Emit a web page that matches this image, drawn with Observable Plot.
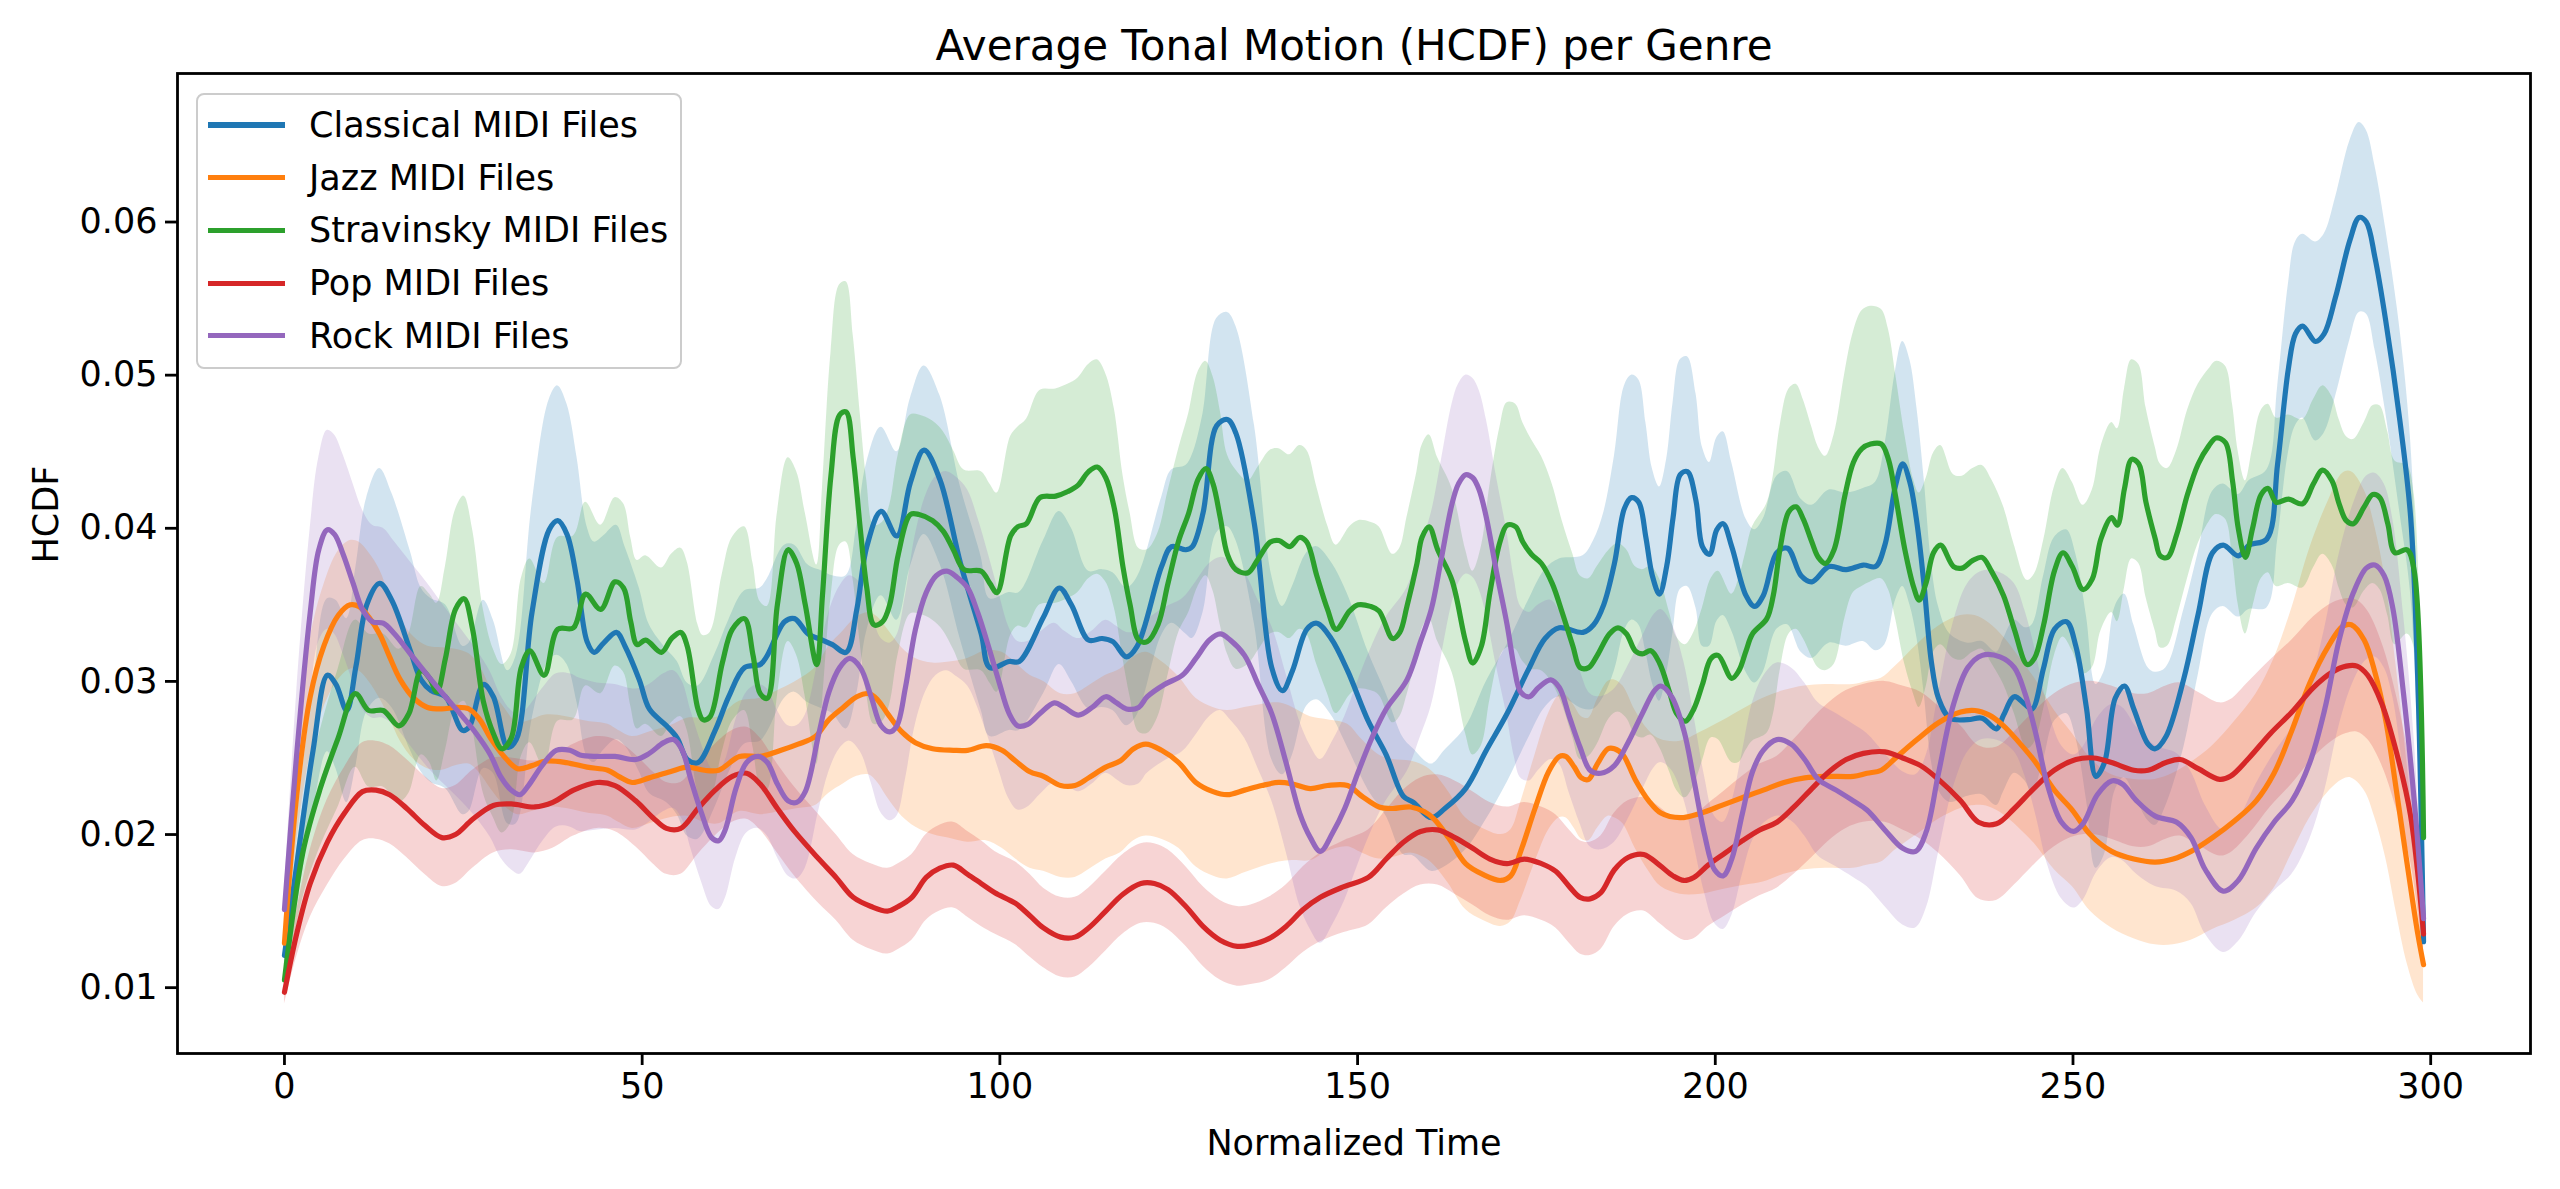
<!DOCTYPE html>
<html><head><meta charset="utf-8">
<script src="https://cdn.jsdelivr.net/npm/d3@7"></script>
<script src="https://cdn.jsdelivr.net/npm/@observablehq/plot@0.6"></script>
<style>
html,body{margin:0;padding:0;background:#fff;}
#wrap{position:relative;width:2560px;height:1189px;overflow:hidden;}
#legend{position:absolute;left:196px;top:93px;width:486px;height:276px;box-sizing:border-box;border:2.8px solid #cccccc;border-radius:8px;background:rgba(255,255,255,0.8);font-family:"DejaVu Sans";font-size:35px;color:#000;}
.sw{position:absolute;left:10px;width:77px;height:5.2px;}
.lt{position:absolute;left:111px;line-height:40px;white-space:nowrap;}
</style>
</head><body>
<div id="wrap"><div id="chart"></div><div id="legend"></div></div>
<script>
// values as [time, mean HCDF, band half-width]
const classical = [[0,0.0121,0.0015],[2,0.019,0.003],[4,0.0255,0.004],[6,0.0304,0.005],[7.2,0.0298,0.0055],[8.7,0.0281,0.006],[10,0.031,0.0065],[11.5,0.035,0.007],[13.3,0.0364,0.0075],[15,0.0353,0.007],[17.6,0.032,0.0065],[19.1,0.0301,0.006],[20.5,0.0294,0.006],[22.5,0.029,0.006],[24.9,0.0268,0.0055],[25.8,0.027,0.0055],[27.8,0.0298,0.0055],[29.2,0.029,0.005],[31.2,0.0257,0.005],[32.4,0.0262,0.0055],[34.6,0.0345,0.007],[37,0.0399,0.0085],[38.2,0.0405,0.0088],[39.5,0.0396,0.0085],[40.9,0.0366,0.008],[42.3,0.0326,0.0075],[43.3,0.0319,0.0072],[44.6,0.0325,0.007],[46.4,0.0332,0.007],[47.6,0.0323,0.0065],[49.6,0.0301,0.006],[51,0.0282,0.0055],[53.4,0.0271,0.005],[54.9,0.0263,0.005],[56.3,0.0249,0.005],[57.8,0.0247,0.005],[60.2,0.0268,0.005],[62.1,0.029,0.005],[64.3,0.0309,0.005],[66.5,0.0311,0.005],[67.5,0.0317,0.005],[69.9,0.0339,0.005],[71.3,0.0341,0.0048],[73.2,0.0331,0.0045],[75.2,0.0327,0.0045],[76.6,0.0324,0.0045],[78.5,0.0319,0.005],[80,0.0347,0.0055],[81.4,0.0388,0.0055],[83.4,0.0411,0.0055],[85.6,0.0395,0.0055],[87.5,0.043,0.0055],[89.4,0.0451,0.0055],[91.6,0.0432,0.0055],[94.5,0.0377,0.005],[97.4,0.0331,0.005],[98.6,0.0309,0.0045],[101.3,0.0313,0.0045],[102.7,0.0313,0.0045],[106.1,0.0342,0.005],[108.3,0.0361,0.005],[110,0.035,0.005],[112.4,0.0327,0.0045],[114.3,0.0328,0.0045],[115.8,0.0326,0.0045],[117.7,0.0316,0.0045],[119.2,0.0323,0.0045],[122.6,0.0375,0.0045],[124,0.0388,0.005],[126,0.0386,0.0055],[126.9,0.0388,0.006],[128.4,0.041,0.0065],[130.3,0.0467,0.007],[131.8,0.0471,0.007],[133,0.0462,0.007],[135.6,0.0402,0.0065],[138,0.0309,0.006],[139.5,0.0294,0.0055],[140.9,0.0307,0.0055],[142.9,0.0334,0.005],[144.3,0.0338,0.005],[146.3,0.0328,0.005],[148.6,0.0307,0.005],[151.5,0.0274,0.0045],[154,0.0252,0.004],[156.4,0.0225,0.0038],[157.8,0.0221,0.0035],[160.3,0.0211,0.0035],[162.2,0.0217,0.0038],[165.1,0.023,0.004],[168,0.0255,0.0045],[170.9,0.0279,0.0045],[173.8,0.0307,0.0045],[176.2,0.0328,0.0045],[178.2,0.0335,0.0045],[181.5,0.0332,0.005],[183,0.0337,0.0055],[184.4,0.035,0.006],[185.9,0.0377,0.007],[187.3,0.0413,0.008],[188.3,0.042,0.008],[189.3,0.0417,0.008],[190.3,0.0394,0.0075],[191.2,0.0369,0.007],[192.2,0.0357,0.007],[193.2,0.0375,0.007],[194.1,0.0407,0.0075],[195.1,0.0435,0.0075],[196.1,0.0437,0.0075],[197.3,0.0418,0.007],[198.2,0.0388,0.0065],[199.2,0.0383,0.006],[200.2,0.0399,0.006],[201.1,0.0403,0.006],[202.3,0.0388,0.0055],[204.3,0.0356,0.005],[205.5,0.0349,0.005],[206.7,0.0356,0.005],[208.6,0.0384,0.005],[210.1,0.0387,0.005],[212,0.0369,0.005],[213.5,0.0365,0.005],[215.9,0.0375,0.005],[218.3,0.0373,0.005],[220.7,0.0376,0.005],[222.4,0.0375,0.0055],[223.7,0.0389,0.0065],[225.2,0.0428,0.0075],[226.2,0.0442,0.008],[227.2,0.043,0.008],[228.2,0.0403,0.0075],[229.2,0.0362,0.007],[230.2,0.0313,0.0065],[231.2,0.0289,0.006],[232.8,0.0276,0.0055],[235.3,0.0275,0.005],[237.3,0.0276,0.005],[239.3,0.0269,0.005],[240.3,0.0278,0.005],[241.8,0.029,0.005],[243.3,0.0285,0.005],[244.3,0.0282,0.0055],[245.9,0.0309,0.006],[247.4,0.0334,0.006],[249.1,0.0339,0.006],[250.4,0.0323,0.006],[251.9,0.0282,0.006],[253.2,0.0238,0.006],[254.4,0.0247,0.006],[255.9,0.0289,0.006],[257.2,0.0297,0.006],[258.5,0.0282,0.0055],[260.5,0.0259,0.005],[261.5,0.0256,0.005],[263,0.0264,0.0045],[265.5,0.0302,0.0045],[267.5,0.0344,0.004],[269.5,0.0384,0.004],[271,0.0389,0.004],[273.1,0.0382,0.004],[274.6,0.0389,0.0042],[277.1,0.0393,0.0045],[278.6,0.0442,0.005],[280.1,0.0504,0.0055],[281.1,0.0527,0.006],[282.1,0.0532,0.006],[283.9,0.0522,0.0065],[285.1,0.0527,0.0065],[286.7,0.0551,0.0065],[288.7,0.0588,0.0065],[290,0.0603,0.0062],[291,0.06,0.006],[292.2,0.0577,0.006],[293.7,0.0536,0.006],[295.7,0.047,0.006],[297.2,0.0407,0.005],[298.2,0.03,0.004],[299,0.013,0.001]];

const jazz = [[0,0.0129,0.0015],[1.7,0.0225,0.003],[3.6,0.029,0.0038],[5.5,0.0323,0.004],[7.5,0.0343,0.0042],[9.2,0.035,0.0042],[10.4,0.0349,0.0042],[11.8,0.0342,0.0042],[13.3,0.0331,0.0042],[14.7,0.0316,0.004],[16.2,0.0301,0.004],[18.1,0.0289,0.004],[20,0.0283,0.004],[22,0.0282,0.004],[23.9,0.0283,0.0038],[25.8,0.0282,0.0036],[27.3,0.0275,0.0035],[28.8,0.0263,0.0033],[30.7,0.0251,0.0032],[32.6,0.0243,0.003],[34.6,0.0245,0.003],[36.5,0.0248,0.003],[39.4,0.0247,0.003],[42.3,0.0244,0.003],[45.2,0.0242,0.003],[46.7,0.0238,0.003],[48.6,0.0234,0.003],[51,0.0237,0.003],[53.9,0.0241,0.003],[56.3,0.0244,0.0032],[58.7,0.0242,0.0034],[60.7,0.0242,0.0035],[63.6,0.0251,0.0036],[66.5,0.0251,0.0038],[69.4,0.0255,0.004],[71.8,0.0259,0.0042],[74.2,0.0264,0.0045],[76.1,0.0275,0.0048],[78.1,0.0283,0.005],[80,0.029,0.0052],[81.7,0.0292,0.0053],[82.9,0.0288,0.0054],[84.3,0.0279,0.0055],[86.3,0.0267,0.0055],[88.2,0.026,0.0055],[90.6,0.0256,0.0056],[93.5,0.0255,0.0058],[95.5,0.0255,0.006],[98.1,0.0258,0.0062],[100.3,0.0255,0.0064],[102.2,0.0248,0.0064],[104.2,0.0241,0.0063],[106.1,0.0238,0.0062],[108.5,0.0232,0.006],[110.5,0.0232,0.006],[112.4,0.0237,0.006],[114.8,0.0244,0.006],[116.8,0.0248,0.006],[118.7,0.0256,0.006],[120.4,0.0259,0.006],[122.6,0.0255,0.0058],[125,0.0247,0.0056],[127.4,0.0234,0.0055],[129.8,0.0228,0.0055],[131.8,0.0226,0.0055],[134.2,0.0229,0.0054],[136.6,0.0232,0.0053],[139,0.0234,0.0052],[140.9,0.0233,0.005],[143.4,0.023,0.0047],[145.8,0.0232,0.0043],[148.6,0.0232,0.004],[150.6,0.0225,0.0037],[153,0.0218,0.0034],[154.9,0.0217,0.0032],[157.4,0.0218,0.003],[159.3,0.0215,0.003],[160.7,0.021,0.003],[162.7,0.0198,0.003],[165.1,0.0181,0.003],[167.5,0.0174,0.003],[170,0.017,0.003],[171.4,0.0173,0.003],[172.8,0.0189,0.0032],[174.8,0.0217,0.0035],[176.7,0.0241,0.0038],[178.2,0.0251,0.004],[179.1,0.0251,0.004],[180.3,0.0244,0.004],[181.3,0.0237,0.004],[182.3,0.0236,0.004],[183.5,0.0246,0.0042],[185,0.0256,0.0044],[185.9,0.0256,0.0045],[187.1,0.0252,0.0045],[188.8,0.0236,0.0045],[190.7,0.0222,0.0046],[192.4,0.0214,0.0048],[195.1,0.0211,0.005],[198,0.0214,0.0053],[200.9,0.0219,0.0055],[204.3,0.0225,0.0058],[206.7,0.0229,0.006],[209.6,0.0234,0.006],[212.5,0.0237,0.006],[215.4,0.0238,0.006],[219.3,0.0238,0.006],[221.2,0.024,0.006],[223.2,0.0242,0.006],[225.2,0.025,0.006],[228.2,0.0262,0.0062],[231.2,0.0273,0.0063],[234.3,0.028,0.0063],[236.3,0.0281,0.0062],[238.3,0.0278,0.006],[240.3,0.0271,0.0058],[242.3,0.0261,0.0056],[244.8,0.0247,0.0054],[247.4,0.0229,0.0052],[249.9,0.0216,0.005],[252.4,0.02,0.005],[255.4,0.0189,0.005],[258.5,0.0184,0.0052],[261.5,0.0182,0.0054],[264,0.0184,0.0056],[266.5,0.0189,0.0058],[269.5,0.0198,0.006],[272.6,0.0209,0.0065],[275.6,0.0222,0.007],[278.1,0.024,0.0075],[280.6,0.0268,0.008],[283.1,0.0299,0.0088],[285.7,0.0323,0.0095],[287.7,0.0336,0.01],[288.9,0.0337,0.01],[290.7,0.0327,0.0098],[292.2,0.0306,0.0095],[293.7,0.0275,0.009],[295.2,0.0229,0.008],[296.7,0.0181,0.0065],[298.2,0.0135,0.004],[299,0.0115,0.0025]];

const stravinsky = [[0,0.0105,0.001],[2.6,0.0189,0.003],[5,0.023,0.0038],[7.5,0.0263,0.0045],[9.9,0.0292,0.0048],[11.8,0.0281,0.005],[13.8,0.0281,0.005],[16,0.0271,0.005],[17.4,0.0279,0.0052],[19.1,0.0307,0.0055],[20.3,0.0302,0.0055],[21.3,0.0293,0.0058],[22.5,0.0315,0.006],[23.9,0.0347,0.0065],[25.1,0.0354,0.0067],[26.3,0.0334,0.0065],[27.8,0.0287,0.006],[29.2,0.0266,0.0055],[30.4,0.0256,0.0055],[31.7,0.0263,0.0055],[33.1,0.0309,0.0058],[34.3,0.032,0.006],[36.3,0.0304,0.006],[38.2,0.0334,0.006],[40.4,0.0335,0.006],[42.1,0.0357,0.006],[44.2,0.0347,0.0055],[46.2,0.0365,0.0055],[47.4,0.0361,0.0055],[48.4,0.0339,0.0055],[49.3,0.0324,0.0055],[50.5,0.0327,0.0055],[52.7,0.0319,0.0055],[54.1,0.0328,0.0055],[55.4,0.0332,0.0055],[56.3,0.0323,0.0055],[57.8,0.0282,0.0055],[58.5,0.0275,0.0055],[59.5,0.0277,0.0055],[61.2,0.0312,0.0058],[62.6,0.0334,0.006],[64.3,0.0341,0.006],[65.5,0.0317,0.006],[66.5,0.0292,0.006],[67.5,0.0289,0.006],[68.9,0.035,0.006],[70.4,0.0386,0.006],[71.6,0.0377,0.006],[72.8,0.035,0.006],[74.4,0.0311,0.0065],[75.2,0.0356,0.007],[76.4,0.0435,0.008],[77.6,0.0474,0.0085],[78.5,0.0476,0.0085],[79.5,0.0446,0.008],[80.5,0.0399,0.0075],[81.4,0.0361,0.007],[82.4,0.0337,0.0065],[83.6,0.0339,0.0065],[84.6,0.035,0.0065],[85.8,0.0383,0.0065],[87.5,0.0409,0.0065],[88.7,0.0409,0.0065],[90.6,0.0405,0.0065],[92.1,0.0398,0.0065],[93.5,0.0386,0.0065],[95,0.0373,0.0065],[97.4,0.0372,0.0065],[98.6,0.0364,0.0065],[99.6,0.0358,0.0065],[101.5,0.0395,0.0065],[102.5,0.0401,0.0065],[103.7,0.0403,0.0068],[105.6,0.042,0.007],[107.8,0.0421,0.007],[109.5,0.0424,0.007],[110.9,0.0428,0.007],[112.4,0.0437,0.007],[113.6,0.044,0.007],[114.8,0.0433,0.0068],[116,0.0413,0.0065],[117.2,0.0375,0.006],[118.2,0.035,0.006],[119.4,0.0327,0.006],[120.6,0.0326,0.006],[122.1,0.0337,0.006],[123.5,0.0364,0.006],[125,0.0392,0.006],[126.4,0.041,0.0065],[127.7,0.0432,0.007],[128.8,0.0439,0.007],[129.8,0.0429,0.007],[130.8,0.0407,0.007],[131.8,0.0383,0.0065],[133,0.0373,0.0065],[134.7,0.0371,0.006],[136.1,0.038,0.006],[137.8,0.0391,0.006],[139,0.0392,0.006],[140.5,0.0388,0.006],[141.9,0.0394,0.006],[142.9,0.0391,0.006],[144.3,0.0369,0.0058],[145.8,0.0347,0.0055],[147,0.0334,0.0055],[148.9,0.0346,0.0055],[150.1,0.035,0.0055],[151.8,0.0349,0.0055],[153,0.0346,0.0055],[154.9,0.0328,0.0055],[155.9,0.0332,0.0055],[156.9,0.0349,0.0058],[158.3,0.0377,0.006],[159,0.0394,0.006],[160,0.0401,0.006],[161.2,0.0386,0.006],[163.2,0.0366,0.006],[165.1,0.0326,0.006],[166.1,0.0312,0.006],[167.3,0.0323,0.0065],[168.5,0.0358,0.007],[169.9,0.0391,0.0075],[170.9,0.0402,0.008],[172.1,0.0401,0.008],[173.1,0.0391,0.0078],[174.3,0.0383,0.0075],[175.7,0.0377,0.007],[177.2,0.0364,0.0065],[178.6,0.0345,0.006],[180.1,0.0323,0.006],[181.1,0.0309,0.006],[182.3,0.0309,0.0058],[183.5,0.0317,0.0058],[185.2,0.0331,0.0055],[186.4,0.0335,0.0055],[187.6,0.0331,0.0055],[188.8,0.032,0.0055],[189.8,0.0318,0.0055],[191,0.032,0.0055],[192.2,0.0312,0.0055],[193.6,0.0293,0.0052],[194.6,0.0279,0.005],[195.8,0.0274,0.005],[197,0.0282,0.005],[198.2,0.0298,0.005],[199.4,0.0315,0.0052],[200.4,0.0317,0.0055],[202.3,0.0302,0.0055],[203.3,0.0307,0.006],[204.3,0.032,0.0065],[205.2,0.0331,0.007],[207.2,0.0341,0.0075],[208.1,0.0356,0.0078],[209.1,0.0388,0.008],[210.3,0.0411,0.008],[211.3,0.0414,0.008],[212.3,0.0406,0.0078],[213.5,0.0391,0.0075],[214.4,0.0381,0.0072],[215.4,0.0377,0.007],[216.6,0.0386,0.0075],[218.1,0.0421,0.008],[219.3,0.0443,0.0085],[220.5,0.0452,0.009],[221.7,0.0455,0.009],[223.2,0.0455,0.0088],[224.2,0.0445,0.0085],[225.2,0.0421,0.008],[226.5,0.0386,0.0075],[227.7,0.0362,0.007],[228.5,0.0353,0.007],[229.5,0.0365,0.0068],[230.5,0.0384,0.0065],[231.5,0.0389,0.0065],[233.3,0.0375,0.006],[234.5,0.0374,0.006],[236,0.0379,0.006],[237.3,0.0381,0.006],[238.6,0.0372,0.006],[240.3,0.0356,0.0058],[241.8,0.0334,0.0055],[243.6,0.0311,0.0055],[244.6,0.0315,0.0055],[245.9,0.0337,0.0055],[247.4,0.0372,0.0055],[248.6,0.0384,0.0055],[249.9,0.0375,0.0055],[251.4,0.036,0.0055],[252.7,0.0367,0.0058],[253.9,0.0393,0.006],[255.4,0.0407,0.0062],[256.2,0.0402,0.0063],[257.2,0.0426,0.0065],[258.2,0.0445,0.0065],[259.2,0.0442,0.0065],[260.2,0.0417,0.0062],[261.5,0.0393,0.006],[262.2,0.0382,0.006],[263.2,0.0381,0.0058],[264.5,0.0396,0.0055],[266,0.0422,0.0055],[267.5,0.0442,0.0052],[269,0.0454,0.005],[270,0.0459,0.005],[271.3,0.0456,0.005],[272.3,0.0431,0.005],[273.1,0.04,0.005],[274.1,0.0381,0.005],[275.1,0.04,0.0052],[276.3,0.0422,0.0055],[277.3,0.0426,0.0055],[278.4,0.0417,0.0055],[280.1,0.0419,0.0055],[282.1,0.0416,0.0055],[283.6,0.0429,0.0055],[284.9,0.0438,0.0055],[286.2,0.0431,0.0055],[287.2,0.0416,0.0055],[288.2,0.0405,0.0055],[289.2,0.0403,0.0055],[290.7,0.0414,0.0055],[291.9,0.0422,0.0058],[292.9,0.042,0.006],[294,0.0403,0.006],[295,0.0384,0.006],[296.7,0.0386,0.0055],[297.7,0.0372,0.005],[299,0.0198,0.001]];

const pop = [[0,0.0097,0.0008],[1.7,0.0135,0.0015],[3.6,0.0168,0.0022],[6,0.0195,0.0028],[8.4,0.0214,0.003],[10.9,0.0228,0.0032],[12.8,0.0229,0.0032],[14.7,0.0226,0.0032],[17.1,0.0217,0.0032],[19.6,0.0206,0.0032],[22,0.0198,0.0032],[23.9,0.02,0.0032],[26.3,0.021,0.0032],[29.2,0.0219,0.0031],[31.7,0.022,0.003],[35,0.0218,0.003],[37.5,0.0221,0.003],[40.4,0.0229,0.003],[43.7,0.0234,0.003],[46.2,0.0232,0.003],[49.1,0.0222,0.003],[51.5,0.0211,0.003],[53.4,0.0204,0.003],[55.4,0.0204,0.003],[57.8,0.0217,0.003],[60.2,0.0229,0.003],[62.6,0.0238,0.003],[64.6,0.024,0.003],[66.5,0.0233,0.003],[68.9,0.0217,0.0029],[71.3,0.0202,0.0029],[74.7,0.0184,0.0029],[77.1,0.0172,0.0028],[79.5,0.0159,0.0028],[82,0.0153,0.0028],[84.3,0.015,0.0028],[85.8,0.0153,0.0028],[87.7,0.0159,0.0028],[89.7,0.0172,0.0028],[91.6,0.0178,0.0028],[93.5,0.018,0.0028],[95.5,0.0174,0.0028],[97.4,0.0168,0.0028],[99.3,0.0162,0.0027],[102.2,0.0155,0.0027],[104.2,0.0147,0.0027],[106.1,0.0139,0.0026],[108.5,0.0133,0.0026],[110.5,0.0133,0.0026],[112.4,0.0139,0.0026],[114.8,0.015,0.0026],[117.2,0.0161,0.0026],[119.7,0.0168,0.0026],[121.6,0.0168,0.0026],[123.5,0.0164,0.0026],[126,0.0153,0.0026],[128.4,0.014,0.0026],[130.8,0.0131,0.0026],[133.2,0.0127,0.0026],[135.1,0.0128,0.0026],[137.6,0.0132,0.0027],[140,0.014,0.0027],[142.4,0.0151,0.0028],[144.8,0.0159,0.0029],[148.1,0.0166,0.003],[151.5,0.0172,0.0031],[154,0.0184,0.0032],[156.4,0.0195,0.0034],[158.8,0.0202,0.0035],[161.2,0.0203,0.0036],[163.6,0.0198,0.0037],[166.1,0.0191,0.0037],[168.5,0.0184,0.0037],[170.9,0.0181,0.0037],[173.3,0.0184,0.0037],[175.7,0.0181,0.0037],[177.7,0.0176,0.0037],[179.6,0.0166,0.0037],[181.1,0.0159,0.0037],[182.5,0.0158,0.0037],[184,0.0162,0.0037],[185.9,0.0177,0.0037],[187.8,0.0185,0.0037],[190,0.0187,0.0037],[192.2,0.018,0.0038],[194.1,0.0173,0.0038],[195.6,0.017,0.0039],[197,0.0172,0.004],[199,0.018,0.004],[201.4,0.0188,0.0041],[203.8,0.0196,0.0042],[206.2,0.0203,0.0043],[208.6,0.0208,0.0043],[211,0.0218,0.0044],[213.5,0.023,0.0045],[215.9,0.0241,0.0045],[218.3,0.0249,0.0045],[220.7,0.0253,0.0045],[223.7,0.0254,0.0046],[226.2,0.025,0.0047],[228.7,0.0245,0.0048],[231.2,0.0236,0.0048],[234.3,0.0222,0.0049],[236.8,0.0208,0.005],[239.3,0.0207,0.005],[241.8,0.0217,0.005],[244.3,0.0229,0.005],[247.4,0.0242,0.005],[250.4,0.0249,0.005],[252.9,0.025,0.005],[255.4,0.0247,0.005],[258.5,0.0242,0.005],[260.5,0.0242,0.005],[263,0.0247,0.005],[265,0.0249,0.005],[267.5,0.0243,0.005],[270.5,0.0236,0.005],[272,0.0238,0.005],[274.6,0.025,0.005],[277.6,0.0266,0.0048],[280.6,0.028,0.0047],[283.6,0.0296,0.0046],[286.2,0.0306,0.0045],[288.2,0.031,0.0044],[289.7,0.031,0.0043],[291.2,0.0304,0.0042],[293.2,0.0285,0.004],[295.2,0.0254,0.0037],[297.2,0.0212,0.003],[299,0.0135,0.0015]];

const rock = [[0,0.0151,0.001],[1.7,0.0252,0.004],[3.6,0.0345,0.0055],[4.8,0.0386,0.006],[6,0.0399,0.0065],[7,0.0396,0.0065],[8.2,0.0383,0.0065],[9.6,0.0364,0.0065],[10.9,0.0347,0.0065],[12.3,0.0339,0.0063],[13.8,0.0338,0.0062],[15.4,0.0331,0.006],[17.6,0.0318,0.006],[20,0.0304,0.006],[22.5,0.029,0.0058],[24.9,0.0277,0.0056],[26.8,0.0266,0.0055],[28.8,0.0252,0.0054],[30.2,0.0238,0.0053],[31.7,0.0229,0.0052],[32.9,0.0226,0.0052],[34.1,0.0232,0.0051],[36,0.0245,0.005],[38,0.0255,0.005],[39.9,0.0255,0.005],[41.3,0.0252,0.005],[43.7,0.0251,0.0048],[46.2,0.0251,0.0047],[49.1,0.0249,0.0046],[51,0.0253,0.0045],[53,0.026,0.0045],[54.4,0.0262,0.0045],[55.6,0.0255,0.0045],[56.8,0.0236,0.0045],[58.3,0.0214,0.0045],[59.7,0.0198,0.0045],[60.7,0.0196,0.0045],[61.6,0.0203,0.0045],[63.1,0.023,0.0045],[64.6,0.0247,0.0046],[66.2,0.0251,0.0047],[67.5,0.0247,0.0048],[68.9,0.0233,0.0048],[70.4,0.0222,0.0049],[71.6,0.0221,0.005],[72.8,0.0228,0.005],[74.7,0.0266,0.005],[76.1,0.0293,0.0052],[77.6,0.0309,0.0053],[79,0.0315,0.0054],[80.5,0.0309,0.0055],[82,0.029,0.0056],[83.4,0.0271,0.0057],[84.6,0.0267,0.0058],[85.6,0.0271,0.0059],[86.8,0.0296,0.006],[88.2,0.0334,0.0062],[89.7,0.0358,0.0064],[91.1,0.0369,0.0065],[92.6,0.0372,0.0065],[94,0.0368,0.0065],[95.5,0.0361,0.0064],[96.9,0.0345,0.0062],[98.4,0.0323,0.006],[99.8,0.0301,0.0058],[101.3,0.0279,0.0056],[102.5,0.0271,0.0055],[103.9,0.0272,0.0054],[105.6,0.0279,0.0053],[107.6,0.0286,0.0052],[109,0.0283,0.005],[111,0.0278,0.005],[112.9,0.0283,0.005],[114.8,0.029,0.005],[116.3,0.0286,0.005],[117.7,0.0282,0.005],[119.4,0.0283,0.005],[120.6,0.029,0.005],[123,0.0298,0.005],[125.5,0.0304,0.005],[127.4,0.0315,0.005],[129.3,0.0327,0.005],[130.8,0.0331,0.005],[132.2,0.0327,0.0052],[134.2,0.0317,0.0054],[136.1,0.0298,0.0055],[138,0.0279,0.0057],[140,0.0247,0.0058],[141.9,0.0214,0.006],[143.4,0.0198,0.006],[144.8,0.0189,0.006],[146.5,0.0201,0.006],[148.2,0.0217,0.006],[150.1,0.0241,0.006],[152,0.0263,0.006],[154,0.0282,0.006],[156.9,0.0301,0.006],[158.8,0.0326,0.0062],[160.3,0.0347,0.0063],[161.7,0.038,0.0064],[163.2,0.0416,0.0065],[164.1,0.0429,0.0065],[165.1,0.0435,0.0065],[166.1,0.0433,0.0065],[167,0.0425,0.0065],[168,0.0407,0.0064],[169.4,0.0372,0.0062],[170.9,0.0337,0.006],[171.9,0.0309,0.0058],[172.8,0.0293,0.0056],[174,0.029,0.0055],[175.3,0.0296,0.0054],[177,0.0301,0.0052],[178.2,0.0296,0.005],[179.6,0.0277,0.005],[181.1,0.0257,0.005],[182.5,0.0242,0.005],[184,0.024,0.005],[185.9,0.0245,0.005],[187.8,0.026,0.005],[189.8,0.0279,0.005],[191.5,0.0294,0.005],[192.4,0.0297,0.005],[193.9,0.029,0.0048],[195.6,0.0268,0.0045],[197,0.0236,0.0042],[198.5,0.02,0.0038],[199.9,0.0177,0.0035],[201.1,0.0173,0.0035],[202.3,0.0184,0.0037],[203.8,0.0214,0.004],[205.2,0.0241,0.0045],[206.7,0.0255,0.0048],[208.6,0.0262,0.005],[210.6,0.0259,0.005],[212.5,0.0249,0.005],[214.4,0.0236,0.005],[216.9,0.0229,0.005],[219.3,0.0222,0.005],[221.2,0.0216,0.005],[223.7,0.0203,0.005],[226.2,0.0191,0.005],[228,0.0189,0.005],[229.5,0.0202,0.005],[231.2,0.024,0.0052],[233.3,0.0285,0.0054],[235.3,0.0309,0.0055],[237.3,0.0317,0.0055],[239.8,0.0316,0.0055],[241.8,0.0309,0.0055],[243.3,0.0292,0.0054],[244.9,0.0264,0.0053],[246.4,0.0233,0.0052],[248.4,0.0208,0.005],[250.1,0.0202,0.005],[251.4,0.0207,0.005],[253.4,0.0226,0.005],[255.4,0.0235,0.005],[256.9,0.0233,0.005],[258.9,0.0222,0.0048],[261.5,0.0212,0.0046],[264.5,0.0208,0.0045],[266.5,0.0198,0.0043],[268.5,0.0177,0.0042],[271,0.0163,0.004],[273.1,0.017,0.004],[275.6,0.0191,0.0042],[278.1,0.0208,0.0045],[280.6,0.0222,0.0048],[283.1,0.0247,0.005],[285.2,0.0282,0.0053],[287.2,0.0327,0.0056],[289.2,0.0358,0.0058],[291,0.0374,0.006],[292.2,0.0376,0.006],[293.5,0.0369,0.006],[294.7,0.0348,0.0058],[296.2,0.0292,0.0052],[297.7,0.0222,0.004],[299,0.0145,0.001]];

const seriesNames = ["Classical MIDI Files","Jazz MIDI Files","Stravinsky MIDI Files","Pop MIDI Files","Rock MIDI Files"];
const seriesColors = ["#1f77b4","#ff7f0e","#2ca02c","#d62728","#9467bd"];
const seriesData = [classical, jazz, stravinsky, pop, rock];
const xTicks = [0,50,100,150,200,250,300];
const yTicks = [0.01,0.02,0.03,0.04,0.05,0.06];
const titleText = "Average Tonal Motion (HCDF) per Genre";
const xLabelText = "Normalized Time";
const yLabelText = "HCDF";

const W = 2560, H = 1189;
const frameL = 177, frameR = 2530, frameT = 73, frameB = 1053;

const bands = seriesData.map((d,i) => Plot.areaY(d, {
  x: r => r[0], y1: r => r[1] - r[2], y2: r => r[1] + r[2],
  fill: seriesColors[i], fillOpacity: 0.2, curve: "catmull-rom"
}));
const lines = seriesData.map((d,i) => Plot.line(d, {
  x: r => r[0], y: r => r[1], stroke: seriesColors[i], strokeWidth: 5.2,
  curve: "catmull-rom", strokeLinejoin: "round"
}));

const chart = Plot.plot({
  width: W, height: H,
  marginLeft: frameL, marginRight: W - frameR, marginTop: frameT, marginBottom: H - frameB,
  style: {fontFamily: "DejaVu Sans", fontSize: "35px", background: "white", color: "black"},
  x: {domain: [-14.95, 313.95], label: null},
  y: {domain: [0.0057, 0.0697], label: null},
  marks: [
    ...bands,
    ...lines,
    Plot.frame({stroke: "black", strokeWidth: 2.8}),
    Plot.axisX({ticks: xTicks, tickSize: 12, tickPadding: 8, strokeWidth: 2.8, fontSize: 35, label: null, tickFormat: d3.format("d")}),
    Plot.axisY({ticks: yTicks, tickSize: 12, tickPadding: 8, strokeWidth: 2.8, fontSize: 35, label: null, tickFormat: d3.format(".2f")}),
    Plot.text([titleText], {text: d => d, frameAnchor: "top", lineAnchor: "middle", dy: -27, fontSize: 42, fill: "black"}),
    Plot.text([xLabelText], {text: d => d, frameAnchor: "bottom", lineAnchor: "middle", dy: 90, fontSize: 35, fill: "black"}),
    Plot.text([yLabelText], {text: d => d, frameAnchor: "left", lineAnchor: "middle", dx: -131, rotate: -90, fontSize: 35, fill: "black"})
  ]
});
document.getElementById("chart").appendChild(chart);

const legend = document.getElementById("legend");
seriesNames.forEach((name, i) => {
  const cy = 30 + i * 52.7;
  const sw = document.createElement("div");
  sw.className = "sw";
  sw.style.top = (cy - 2.6) + "px";
  sw.style.background = seriesColors[i];
  legend.appendChild(sw);
  const t = document.createElement("div");
  t.className = "lt";
  t.style.top = (cy - 20) + "px";
  t.textContent = name;
  legend.appendChild(t);
});
</script>
</body></html>
